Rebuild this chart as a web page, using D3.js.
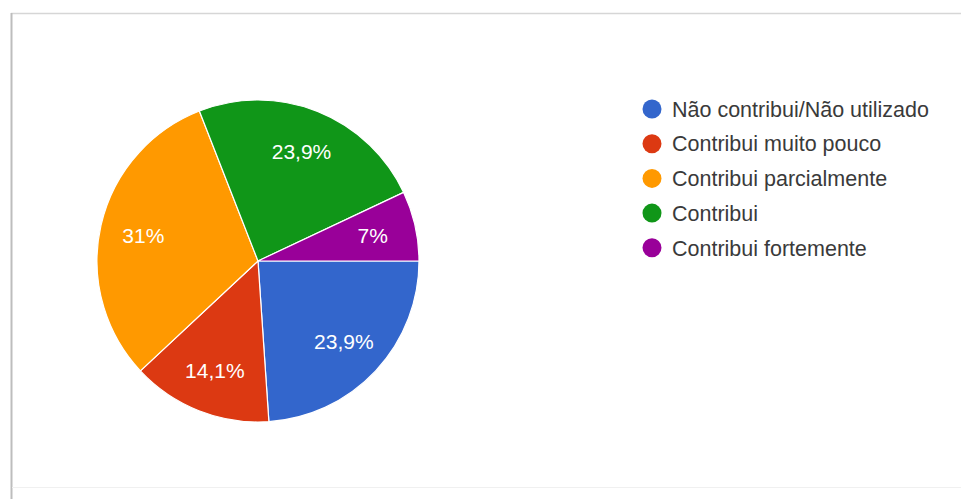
<!DOCTYPE html>
<html>
<head>
<meta charset="utf-8">
<script src="https://cdn.jsdelivr.net/npm/d3@7"></script>
<style>
  html, body { margin: 0; padding: 0; background: #fff; }
  svg { display: block; font-family: Arial, "Liberation Sans", sans-serif; }
</style>
</head>
<body>
<svg id="chart" width="961" height="499"></svg>
<script>
// Response categories and their share of answers (%)
const categories = [
  "Não contribui/Não utilizado",
  "Contribui muito pouco",
  "Contribui parcialmente",
  "Contribui",
  "Contribui fortemente"
];
const percentages = [23.9, 14.1, 31, 23.9, 7];
const colors = ["#3366cc", "#dc3912", "#ff9900", "#109618", "#990099"];

const svg = d3.select("#chart");
const W = 961, H = 499;

// Card frame
svg.append("line").attr("x1", 11).attr("x2", W).attr("y1", 13.5).attr("y2", 13.5)
  .attr("stroke", "#d6d6d6").attr("stroke-width", 1.5);
svg.append("line").attr("x1", 11.5).attr("x2", 11.5).attr("y1", 13).attr("y2", H)
  .attr("stroke", "#bdbdbd").attr("stroke-width", 2);
svg.append("line").attr("x1", 12).attr("x2", W).attr("y1", 487.5).attr("y2", 487.5)
  .attr("stroke", "#f0f0f0").attr("stroke-width", 1);

// Pie
const cx = 258, cy = 261, r = 161;
const color = d3.scaleOrdinal().domain(categories).range(colors);
const pie = d3.pie().sort(null).value(d => d.value)
  .startAngle(Math.PI / 2).endAngle(Math.PI / 2 + 2 * Math.PI);
const data = categories.map((c, i) => ({ name: c, value: percentages[i] }));
const arcs = pie(data);
const arc = d3.arc().innerRadius(0).outerRadius(r);
const labelArc = d3.arc().innerRadius(r * 0.73).outerRadius(r * 0.73);

const g = svg.append("g").attr("transform", `translate(${cx},${cy})`);
g.selectAll("path.slice").data(arcs).join("path")
  .attr("class", "slice")
  .attr("d", arc)
  .attr("fill", d => color(d.data.name))
  .attr("stroke", "#fff")
  .attr("stroke-width", 1.2);

const fmt = v => String(v).replace(".", ",") + "%";
g.selectAll("text.pct").data(arcs).join("text")
  .attr("class", "pct")
  .attr("transform", d => `translate(${labelArc.centroid(d)})`)
  .attr("text-anchor", "middle")
  .attr("dy", "0.36em")
  .attr("fill", "#fff")
  .attr("font-size", 21)
  .text(d => fmt(d.data.value));

// Legend
const legend = svg.append("g").attr("transform", "translate(652,109)");
const rowH = 34.7;
const rows = legend.selectAll("g.row").data(categories).join("g")
  .attr("class", "row")
  .attr("transform", (d, i) => `translate(0,${i * rowH})`);
rows.append("circle").attr("r", 9.5).attr("fill", d => color(d));
rows.append("text")
  .attr("x", 20)
  .attr("dy", "0.36em")
  .attr("fill", "#3a3a3a")
  .attr("font-size", 21.5)
  .text(d => d);
</script>
</body>
</html>
